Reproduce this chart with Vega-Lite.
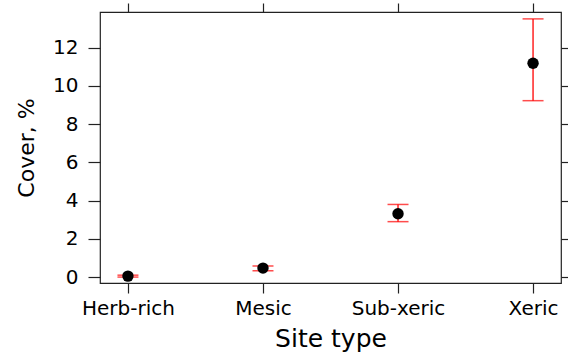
{
  "$schema": "https://vega.github.io/schema/vega-lite/v6.json",
  "width": 461,
  "height": 271,
  "autosize": "none",
  "padding": {"left": 100, "top": 12, "right": 7, "bottom": 79},
  "background": "white",
  "config": {
    "view": {"stroke": "#222", "strokeWidth": 1.2},
    "axis": {
      "domain": false,
      "grid": false,
      "tickColor": "#222",
      "tickSize": 10,
      "tickWidth": 1.2,
      "labelFont": "DejaVu Sans",
      "labelFontSize": 20,
      "labelColor": "black",
      "titleFont": "DejaVu Sans",
      "titleFontSize": 22,
      "titleFontWeight": "normal",
      "titleColor": "black"
    }
  },
  "data": {
    "values": [
      {"site": "Herb-rich", "mean": 0.05, "lo": 0.0, "hi": 0.1},
      {"site": "Mesic", "mean": 0.47, "lo": 0.33, "hi": 0.58},
      {"site": "Sub-xeric", "mean": 3.31, "lo": 2.9, "hi": 3.8},
      {"site": "Xeric", "mean": 11.19, "lo": 9.23, "hi": 13.51}
    ]
  },
  "layer": [
    {
      "mark": {"type": "rule", "color": "red", "strokeWidth": 1.3},
      "encoding": {
        "x": {"field": "site", "type": "nominal", "sort": null, "scale": {"type": "point", "padding": 0.207}, "axis": {"orient": "bottom", "title": "Site type", "titleFontSize": 25, "labelAngle": 0, "labelPadding": 5, "titlePadding": 8}},
        "y": {"field": "lo", "type": "quantitative", "scale": {"domain": [-0.31, 13.87], "nice": false, "zero": false}, "axis": {"orient": "left", "values": [0, 2, 4, 6, 8, 10, 12], "tickSize": 12, "title": "Cover, %", "labelPadding": 10, "titlePadding": 14}},
        "y2": {"field": "hi"}
      }
    },
    {
      "mark": {"type": "tick", "color": "red", "orient": "horizontal", "size": 21, "thickness": 1.5},
      "encoding": {
        "x": {"field": "site", "type": "nominal", "sort": null, "axis": {"orient": "top", "labels": false, "title": null, "tickSize": 9}},
        "y": {"field": "lo", "type": "quantitative", "axis": {"orient": "right", "labels": false, "title": null, "values": [0, 2, 4, 6, 8, 10, 12]}}
      }
    },
    {
      "mark": {"type": "tick", "color": "red", "orient": "horizontal", "size": 21, "thickness": 1.5},
      "encoding": {
        "x": {"field": "site", "type": "nominal", "sort": null, "axis": null},
        "y": {"field": "hi", "type": "quantitative", "axis": null}
      }
    },
    {
      "mark": {"type": "circle", "color": "black", "opacity": 1, "size": 130},
      "encoding": {
        "x": {"field": "site", "type": "nominal", "sort": null, "axis": null},
        "y": {"field": "mean", "type": "quantitative", "axis": null}
      }
    }
  ]
}
